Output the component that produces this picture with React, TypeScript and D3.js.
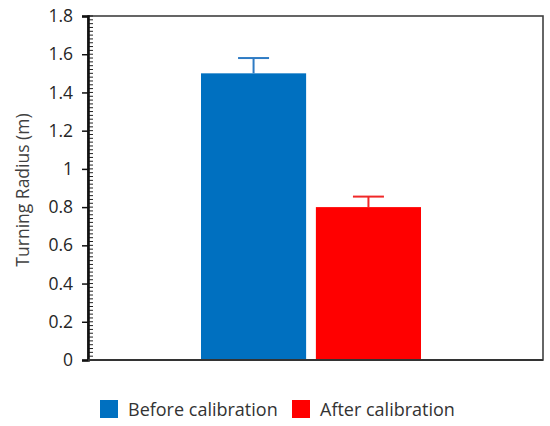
import React, { useEffect, useRef } from "react";
import * as d3 from "d3";

const categories = ["Before calibration", "After calibration"];
const values = [1.5, 0.8];
const errors = [0.08, 0.055];
const colors = ["#0070C0", "#FF0000"];
const errColors = ["#2E7BC4", "#F02828"];
const yTicks = [0, 0.2, 0.4, 0.6, 0.8, 1, 1.2, 1.4, 1.6, 1.8];

function BarChart({
  width = 550,
  height = 426,
  marginTop = 16,
  marginRight = 7,
  marginBottom = 66,
  marginLeft = 88,
}) {
  const svgRef = useRef<SVGSVGElement>(null);

  useEffect(() => {
    const svg = d3.select(svgRef.current);
    svg.selectAll("*").remove();

    const font = "'Open Sans', sans-serif";
    const x0 = marginLeft;
    const x1 = width - marginRight;
    const y0 = height - marginBottom;

    // y scale
    const yScale = d3.scaleLinear().domain([0, 1.8]).range([y0, marginTop]);
    // x scale for the two bars
    const xScale = d3
      .scaleBand()
      .domain(categories)
      .range([201, 421])
      .paddingInner(0.085)
      .paddingOuter(0);

    // frame
    svg
      .append("rect")
      .attr("x", x0)
      .attr("y", marginTop)
      .attr("width", x1 - x0)
      .attr("height", y0 - marginTop)
      .attr("fill", "none")
      .attr("stroke", "#404040")
      .attr("stroke-width", 1.6);

    // bars
    svg
      .selectAll(".bar")
      .data(values)
      .join("rect")
      .attr("class", "bar")
      .attr("x", (d, i) => xScale(categories[i])!)
      .attr("y", (d) => yScale(d))
      .attr("width", xScale.bandwidth())
      .attr("height", (d) => yScale(0) - yScale(d))
      .attr("fill", (d, i) => colors[i]);

    // error bars
    const cap = 31;
    values.forEach((v, i) => {
      const cx = xScale(categories[i])! + xScale.bandwidth() / 2;
      const g = svg.append("g").attr("stroke", errColors[i]).attr("stroke-width", 2);
      g.append("line")
        .attr("x1", cx)
        .attr("x2", cx)
        .attr("y1", yScale(v))
        .attr("y2", yScale(v + errors[i]));
      g.append("line")
        .attr("x1", cx - cap / 2)
        .attr("x2", cx + cap / 2)
        .attr("y1", yScale(v + errors[i]))
        .attr("y2", yScale(v + errors[i]));
    });

    // minor ticks pointing inside
    const minor = d3.range(0, 1.8001, 0.02);
    svg
      .append("g")
      .selectAll("line")
      .data(minor)
      .join("line")
      .attr("x1", x0)
      .attr("x2", x0 + 5)
      .attr("y1", (d) => yScale(d))
      .attr("y2", (d) => yScale(d))
      .attr("stroke", "#222")
      .attr("stroke-width", 1);

    // y axis
    const yAxis = d3
      .axisLeft(yScale)
      .tickValues(yTicks)
      .tickSize(6)
      .tickPadding(9)
      .tickFormat((d) => String(d));
    const ax = svg
      .append("g")
      .attr("transform", `translate(${x0},0)`)
      .call(yAxis);
    ax.select(".domain").attr("stroke", "#111").attr("stroke-width", 2.6);
    ax.selectAll(".tick line").attr("stroke", "#111").attr("stroke-width", 1.5);
    ax.selectAll(".tick text")
      .attr("font-family", font)
      .attr("font-size", 17.5)
      .attr("fill", "#262626");

    // bottom line slightly heavier
    svg
      .append("line")
      .attr("x1", x0)
      .attr("x2", x1)
      .attr("y1", y0)
      .attr("y2", y0)
      .attr("stroke", "#333")
      .attr("stroke-width", 2);

    // y title
    svg
      .append("text")
      .attr("transform", `translate(29,${(marginTop + y0) / 2 + 2}) rotate(-90)`)
      .attr("text-anchor", "middle")
      .attr("font-family", font)
      .attr("font-size", 17.5)
      .attr("fill", "#404040")
      .text("Turning Radius (m)");

    // legend
    const legX = [100, 292];
    const lg = svg.append("g");
    categories.forEach((c, i) => {
      lg.append("rect")
        .attr("x", legX[i])
        .attr("y", 400)
        .attr("width", 18)
        .attr("height", 18)
        .attr("fill", colors[i]);
      lg.append("text")
        .attr("x", legX[i] + 28)
        .attr("y", 416)
        .attr("font-family", font)
        .attr("font-size", 18)
        .attr("fill", "#333")
        .text(c);
    });
  }, []);

  return (
    <svg
      ref={svgRef}
      width={width}
      height={height}
      style={{ position: "absolute", left: 0, top: 0, background: "#fff" }}
    ></svg>
  );
}

export default function App() {
  return <BarChart />;
}
